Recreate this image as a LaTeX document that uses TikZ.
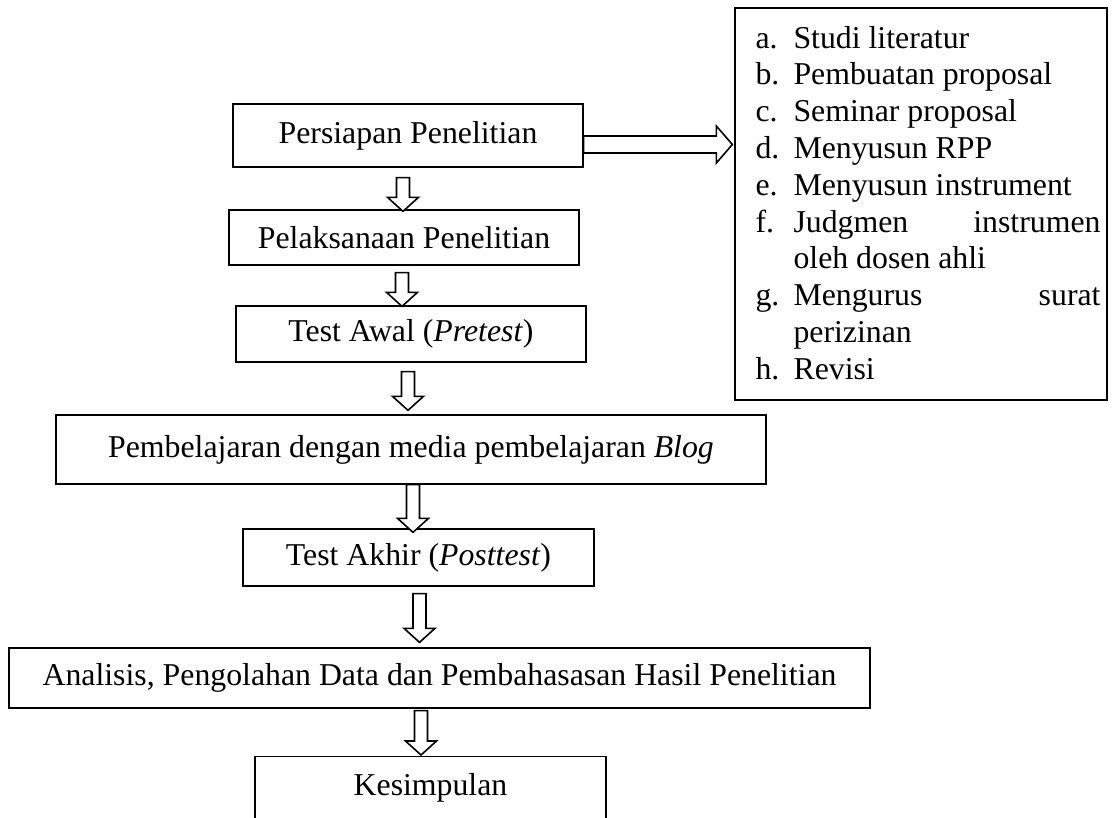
\documentclass[tikz,border=0pt]{standalone}
\usepackage{fontspec}
\setmainfont{Liberation Serif}
\usetikzlibrary{calc}

\newcommand{\pxu}{0.3774pt}
% panah blok ke bawah: #1 pangkal, #2 ujung
\newcommand{\panahbawah}[2]{%
	\filldraw[panah] ($(#1)+(-6.5,0)$) -- ($(#1|-#2)+(-6.5,-14)$) -- ($(#1|-#2)+(-15.5,-14)$)
		-- (#1|-#2) -- ($(#1|-#2)+(15.5,-14)$) -- ($(#1|-#2)+(6.5,-14)$) -- ($(#1)+(6.5,0)$) -- cycle;}
% satu butir daftar
\newcommand{\butir}[2]{\noindent\hangindent=14.34pt\hangafter=1\makebox[14.34pt][l]{#1}#2\par}

\tikzset{
	kotak/.style={draw, line width=.5pt, inner sep=0pt, minimum width=350*\pxu, font=\fontsize{12}{13.9}\selectfont},
	panah/.style={draw=black, fill=white, line width=.6pt, line join=miter}
}

\begin{document}
\begin{tikzpicture}[x=\pxu,y=-\pxu]
\useasboundingbox (0,0) rectangle (1120,817);

% kotak alur
\node[kotak, minimum height=63*\pxu] (persiapan) at (408,135.5) {Persiapan Penelitian};
\node[kotak, minimum height=55*\pxu] (pelaksanaan) at (404,237.5) {Pelaksanaan Penelitian};
\node[kotak, minimum height=56*\pxu] (awal) at (411,334) {Test Awal (\textit{Pretest})};
\node[kotak, minimum height=69*\pxu, minimum width=710*\pxu] (blog) at (411,449.5) {Pembelajaran dengan media pembelajaran \textit{Blog}};
\node[kotak, minimum height=57*\pxu, minimum width=351*\pxu] (akhir) at (418.5,557.5) {Test Akhir (\textit{Posttest})};
\node[kotak, minimum height=60*\pxu, minimum width=861*\pxu] (analisis) at (439.5,678) {Analisis, Pengolahan Data dan Pembahasasan Hasil Penelitian};
\node[kotak, minimum width=351*\pxu, text height=39*\pxu, text depth=50*\pxu, anchor=north] (kesimpulan) at (430.5,756) {Kesimpulan};

% tahap persiapan
\node[draw, line width=.5pt, inner sep=0pt, minimum width=372*\pxu, minimum height=392*\pxu] (tahap) at (921,204) {};
\node[inner sep=0pt, anchor=base west, font=\fontsize{12}{13.9}\selectfont] (daftar) at (755,48) {\parbox[t]{130.2pt}{%
	\tolerance=10000 \hbadness=10000 \hyphenpenalty=10000
	\butir{a.}{Studi literatur}
	\butir{b.}{Pembuatan proposal}
	\butir{c.}{Seminar proposal}
	\butir{d.}{Menyusun RPP}
	\butir{e.}{Menyusun instrument}
	\butir{f.}{Judgmen instrumen oleh dosen ahli}
	\butir{g.}{Mengurus surat perizinan}
	\butir{h.}{Revisi}}};

% ujung panah
\coordinate (p1a) at ($(persiapan.south)+(-5,10)$);
\coordinate (p1b) at ($(pelaksanaan.north)+(-1,2)$);
\coordinate (p2a) at ($(pelaksanaan.south)+(-2,7)$);
\coordinate (p2b) at ($(awal.north)+(-9,1)$);
\coordinate (p3a) at ($(awal.south)+(-3,9)$);
\coordinate (p3b) at ($(blog.north)+(-3,-4)$);
\coordinate (p4a) at ($(blog.south)+(2,0)$);
\coordinate (p4b) at ($(akhir.north)+(-5.5,4)$);
\coordinate (p5a) at ($(akhir.south)+(1,7)$);
\coordinate (p5b) at ($(analisis.north)+(-20,-5)$);
\coordinate (p6a) at ($(analisis.south)+(-18.5,2)$);
\coordinate (p6b) at ($(kesimpulan.north)+(-9.5,-1)$);

\panahbawah{p1a}{p1b}
\panahbawah{p2a}{p2b}
\panahbawah{p3a}{p3b}
\panahbawah{p4a}{p4b}
\panahbawah{p5a}{p5b}
\panahbawah{p6a}{p6b}

% panah ke kanan
\coordinate (ka) at ($(persiapan.east)+(0,9)$);
\coordinate (kb) at ($(tahap.west|-ka)+(-2,0)$);
\filldraw[panah] ($(ka)+(0,-8.5)$) -- ($(kb)+(-16,-8.5)$) -- ($(kb)+(-16,-18.5)$) -- (kb)
	-- ($(kb)+(-16,18.5)$) -- ($(kb)+(-16,8.5)$) -- ($(ka)+(0,8.5)$) -- cycle;

\end{tikzpicture}
\end{document}
